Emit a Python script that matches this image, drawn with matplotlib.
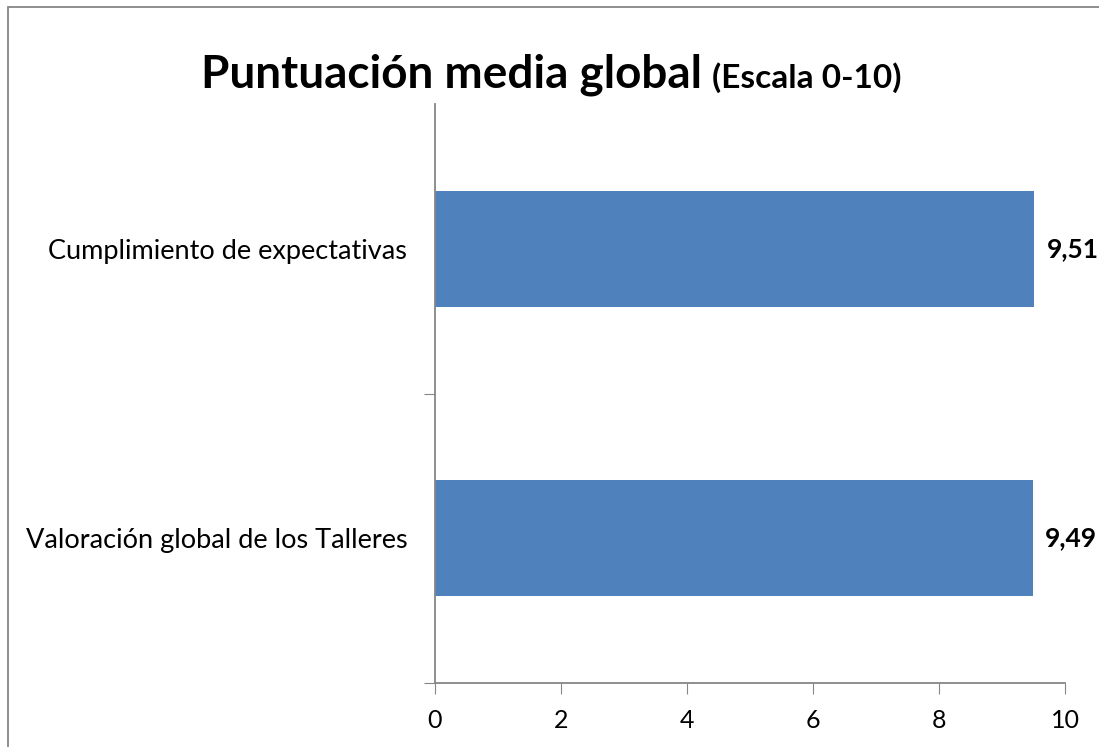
import matplotlib.pyplot as plt
from matplotlib.patches import Rectangle

categories = ['Valoración global de los Talleres', 'Cumplimiento de expectativas']
values = [9.49, 9.51]
value_labels = ['9,49', '9,51']
xticks = [0, 2, 4, 6, 8, 10]

plt.rcParams['font.family'] = ['Lato', 'DejaVu Sans']

fig = plt.figure(figsize=(10.99, 7.47), dpi=100)
ax = fig.add_axes([435 / 1099, 1 - 683 / 747, 630 / 1099, 579 / 747])

pos = list(range(len(categories)))
ax.barh(pos, values, height=0.4, color='#4F81BD')
for p, v, lab in zip(pos, values, value_labels):
    ax.annotate(lab, (v, p), xytext=(9, 0), textcoords='offset points',
                ha='left', va='center', fontsize=19, fontweight='bold',
                annotation_clip=False)

ax.set_xlim(0, 10)
ax.set_ylim(-0.5, 1.5)
ax.set_xticks(xticks)
ax.set_xticklabels([str(t) for t in xticks], fontsize=18)
ax.set_yticks([-0.5, 0.5])
ax.set_yticklabels([])
ax.set_yticks(pos, minor=True)
ax.set_yticklabels(categories, minor=True, fontsize=19.5)
ax.tick_params(axis='y', which='minor', length=0, pad=20)
ax.tick_params(axis='y', which='major', length=8, color='#868686')
ax.tick_params(axis='x', length=8, color='#868686', pad=11)

for s in ['top', 'right']:
    ax.spines[s].set_visible(False)
for s in ['left', 'bottom']:
    ax.spines[s].set_color('#868686')
    ax.spines[s].set_linewidth(1.3)

fig.text(702 / 1099, 1 - 88 / 747, 'Puntuación media global', ha='right', va='baseline',
         fontsize=33, fontweight='bold')
fig.text(712 / 1099, 1 - 88 / 747, '(Escala 0-10)', ha='left', va='baseline',
         fontsize=24, fontweight='bold')

fig.patches.append(Rectangle((8 / 1099, -0.1), 1.2, 1 - 7 / 747 + 0.1,
                             transform=fig.transFigure, fill=False,
                             edgecolor='#868686', linewidth=1.3))

fig.savefig('out.png', dpi=100)
